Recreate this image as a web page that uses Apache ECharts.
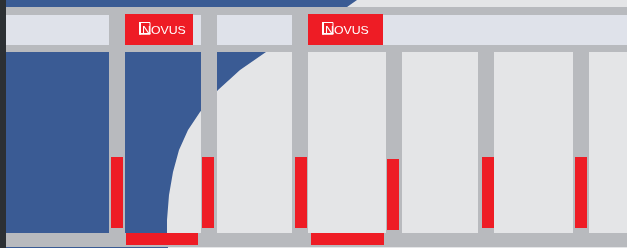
<!DOCTYPE html>
<html>
<head>
<meta charset="utf-8">
<script src="https://cdn.jsdelivr.net/npm/echarts@6/dist/echarts.min.js"></script>
<style>
  html, body { margin: 0; padding: 0; background: #e4e5e7; }
  #chart { width: 627px; height: 248px; }
</style>
</head>
<body>
<div id="chart"></div>
<script>
// every shape is [x0, x1, y0, y1] in picture units (0..627, 0..248)
const blueOutline = [
  [6, 0], [357, 0], [347, 7], [330, 16], [308, 28], [288, 39], [266, 52],
  [240, 70], [218, 90], [200, 112], [188, 130], [179, 150], [173, 172],
  [169, 195], [167, 220], [167, 235], [168, 248], [6, 248]
]
const beams = [[6, 627, 7, 15], [6, 627, 45, 52], [6, 627, 233, 247]]
const headerStrip = [[6, 627, 15, 45]]
const headerPosts = [[109, 125, 15, 45], [201, 217, 15, 45], [292, 308, 15, 45]]
const posts = [
  [109, 125, 52, 233], [201, 217, 52, 233], [292, 308, 52, 233],
  [386, 402, 52, 233], [478, 494, 52, 233], [573, 589, 52, 233]
]
const redPosts = [
  [111, 123, 157, 228], [202, 214, 157, 228], [295, 307, 157, 228],
  [387, 399, 159, 230], [482, 494, 157, 228], [575, 587, 157, 228]
]
const redBase = [[126, 198, 233, 245], [311, 384, 233, 245]]
const signs = [[125, 193, 14, 45], [308, 383, 14, 45]]
const signLabels = ['NOVUS', 'NOVUS']
const edge = [[0, 6, 0, 248]]

const chart = echarts.init(document.getElementById('chart'), null, { renderer: 'canvas' })

function rectSeries(data, color, z) {
  return {
    type: 'custom',
    z: z,
    silent: true,
    data: data,
    renderItem(params, api) {
      const p0 = api.coord([api.value(0), api.value(2)])
      const p1 = api.coord([api.value(1), api.value(3)])
      return {
        type: 'rect',
        shape: { x: p0[0], y: p0[1], width: p1[0] - p0[0], height: p1[1] - p0[1] },
        style: { fill: color }
      }
    }
  }
}

chart.setOption({
  backgroundColor: '#e4e5e7',
  animation: false,
  grid: { left: 0, right: 0, top: 0, bottom: 0 },
  xAxis: { type: 'value', min: 0, max: 627, show: false },
  yAxis: { type: 'value', min: 0, max: 248, inverse: true, show: false },
  series: [
    {
      type: 'custom',
      z: 1,
      silent: true,
      data: blueOutline,
      renderItem(params, api) {
        if (params.dataIndex !== 0) return
        const pts = blueOutline.map(p => api.coord(p))
        return {
          type: 'polygon',
          shape: { points: pts, smooth: 0 },
          style: { fill: '#3a5b94' }
        }
      }
    },
    rectSeries(headerStrip, '#dfe2ea', 2),
    rectSeries(beams, '#b8babe', 3),
    rectSeries(headerPosts, '#b8babe', 3),
    rectSeries(posts, '#b8babe', 3),
    rectSeries(redPosts, '#ee1c25', 4),
    rectSeries(redBase, '#ee1c25', 4),
    rectSeries(edge, '#2c3034', 6),
    {
      type: 'custom',
      z: 5,
      silent: true,
      data: signs.map((s, i) => s.concat([signLabels[i]])),
      renderItem(params, api) {
        const p0 = api.coord([api.value(0), api.value(2)])
        const p1 = api.coord([api.value(1), api.value(3)])
        const ix = p0[0] + 14
        const iy = p0[1] + 8
        return {
          type: 'group',
          children: [
            {
              type: 'rect',
              shape: { x: p0[0], y: p0[1], width: p1[0] - p0[0], height: p1[1] - p0[1] },
              style: { fill: '#ee1c25' }
            },
            {
              type: 'rect',
              shape: { x: ix + 0.5, y: iy + 0.5, width: 10.5, height: 11.5 },
              style: { fill: null, stroke: '#fff', lineWidth: 1 }
            },
            {
              type: 'rect',
              shape: { x: ix, y: iy, width: 2, height: 12.5 },
              style: { fill: '#fff' }
            },
            {
              type: 'rect',
              shape: { x: ix, y: iy + 11, width: 11.5, height: 1.5 },
              style: { fill: '#fff' }
            },
            {
              type: 'text',
              x: ix + 3,
              y: iy + 9,
              scaleX: 1.12,
              style: {
                text: api.value(4),
                fill: '#fff',
                font: '11px "Liberation Sans", Arial, sans-serif',
                verticalAlign: 'middle'
              }
            }
          ]
        }
      }
    }
  ]
})
</script>
</body>
</html>
